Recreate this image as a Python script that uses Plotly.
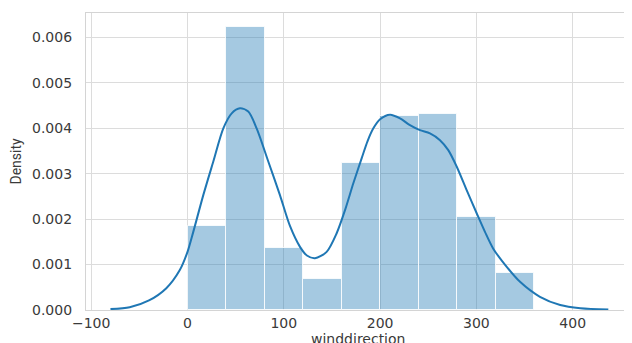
import plotly.graph_objects as go

# Histogram (density) values, bins of width 40 starting at 0
bin_edges = [0, 40, 80, 120, 160, 200, 240, 280, 320, 360]
bin_density = [0.001857, 0.006226, 0.001359, 0.000676, 0.003245, 0.00428, 0.004317, 0.002042, 0.000815]

# KDE curve
kde_x = [-80, -60, -40, -22, -8, 0, 6, 16.4, 26.8, 37.2, 45.9, 54.5, 63.1, 71.8, 83.9, 96, 106.4,
         116.8, 124, 132.4, 144.5, 154.9, 163.6, 172.2, 181, 187, 193, 200, 210.3, 220.7, 231,
         241.4, 251.8, 262.2, 270.8, 279.5, 289.9, 300.3, 308.9, 317.5, 331.5, 345.3, 366, 387, 408, 437]
kde_y = [0.00002, 0.00006, 0.00021, 0.00048, 0.00088, 0.00128, 0.00172, 0.00253, 0.00327, 0.0040,
         0.00433, 0.00444, 0.00437, 0.0040, 0.00327, 0.00253, 0.00185, 0.00139, 0.0012, 0.00114,
         0.00128, 0.00169, 0.0022, 0.00279, 0.00335, 0.00372, 0.0040, 0.0042, 0.0043, 0.00422,
         0.00407, 0.00396, 0.00389, 0.00374, 0.00352, 0.00316, 0.00264, 0.00213, 0.00172, 0.00135,
         0.00095, 0.00062, 0.00029, 0.00011, 0.00004, 0.00001]

x_ticks = [-100, 0, 100, 200, 300, 400]
x_tick_text = ["\u2212100", "0", "100", "200", "300", "400"]
y_ticks = [0.000, 0.001, 0.002, 0.003, 0.004, 0.005, 0.006]

centers = [(a + b) / 2 for a, b in zip(bin_edges[:-1], bin_edges[1:])]
widths = [b - a for a, b in zip(bin_edges[:-1], bin_edges[1:])]

fig = go.Figure()
fig.add_trace(go.Bar(
    x=centers, y=bin_density, width=widths,
    marker=dict(color="rgba(31,119,180,0.4)", line=dict(color="rgba(255,255,255,0.8)", width=1)),
    showlegend=False, hoverinfo="skip",
))
fig.add_trace(go.Scatter(
    x=kde_x, y=kde_y, mode="lines",
    line=dict(color="#1f77b4", width=2, shape="spline", smoothing=0.8),
    showlegend=False,
))

tick_font = dict(family="DejaVu Sans", size=14, color="#3a3a3a")
grid = "#dcdcdc"

# the page body adds an 8px margin; the plot area runs past the right edge, as in the reference
fig.update_layout(
    width=640, height=335,
    margin=dict(l=78, r=0, t=5, b=33, autoexpand=False),
    paper_bgcolor="white", plot_bgcolor="white",
    bargap=0,
    xaxis=dict(
        range=[-105.4, 478.2], tickvals=x_ticks, ticktext=x_tick_text, automargin=False,
        showgrid=True, gridcolor=grid, gridwidth=1.2,
        showline=True, linecolor="#d4d4d4", linewidth=1.2, mirror=True,
        zeroline=False, tickfont=tick_font, ticks="", ticklabelstandoff=0,
    ),
    yaxis=dict(
        range=[0, 0.00654], tickvals=y_ticks, tickformat=".3f", automargin=False,
        showgrid=True, gridcolor=grid, gridwidth=1.2,
        showline=True, linecolor="#d4d4d4", linewidth=1.2, mirror=False,
        zeroline=False, tickfont=tick_font, ticks="", ticklabelstandoff=10,
    ),
    annotations=[
        dict(text="Density", xref="paper", yref="paper", x=0, y=0.5,
             xanchor="center", yanchor="middle", xshift=-71, textangle=-90, showarrow=False,
             font=dict(family="Liberation Sans Narrow, Roboto, sans-serif", size=14, color="#3a3a3a")),
        dict(text="winddirection", xref="x", yref="paper", x=177.5, y=0,
             xanchor="center", yanchor="top", yshift=-19, showarrow=False,
             font=dict(family="DejaVu Sans", size=14, color="#3a3a3a")),
    ],
)

fig.write_html("out.html")
